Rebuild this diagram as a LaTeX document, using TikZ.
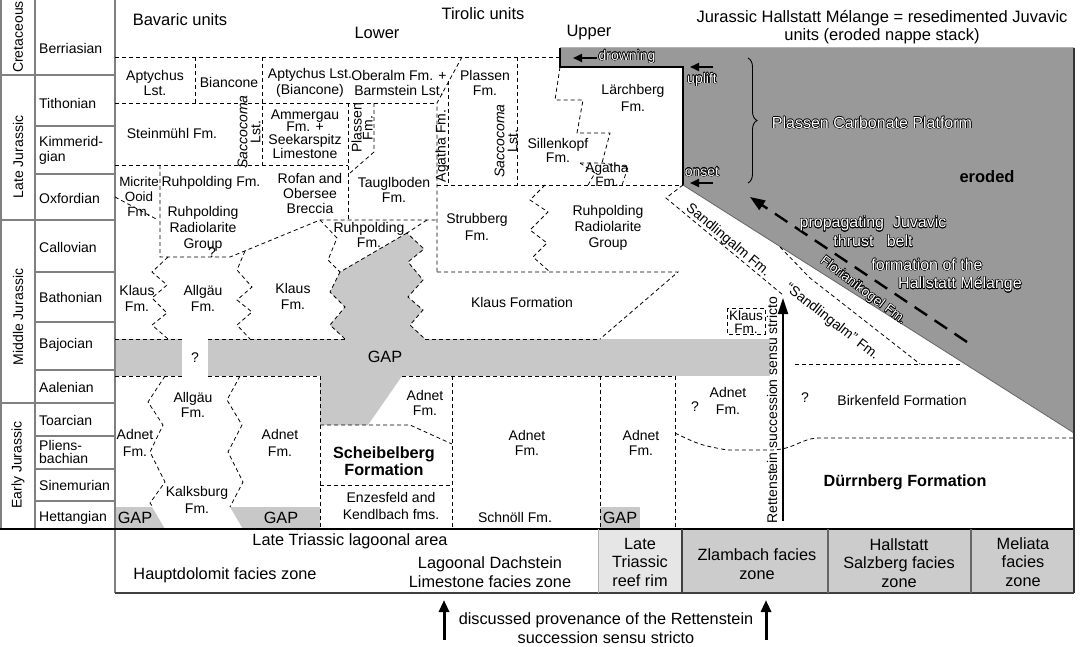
\documentclass[tikz,border=0pt]{standalone}
\usepackage{fontspec}
\setmainfont{Liberation Sans}
\usepackage{contour}
\contourlength{0.5pt}
\usetikzlibrary{arrows.meta,decorations.pathreplacing}
\definecolor{gapg}{RGB}{200,200,200}
\definecolor{darkg}{RGB}{153,153,153}
\definecolor{reefg}{RGB}{230,230,230}
\definecolor{facg}{RGB}{204,204,204}
\begin{document}
\begin{tikzpicture}[x=1pt,y=-1pt,
  lb/.style={font=\fontsize{14}{15.5}\selectfont, align=center, inner sep=0pt},
  hd/.style={font=\fontsize{16.5}{17.5}\selectfont, align=center, inner sep=0pt},
  fc/.style={font=\fontsize{16.3}{18.5}\selectfont, align=center, inner sep=0pt},
  bd/.style={font=\fontsize{16.2}{17.5}\selectfont\bfseries, align=center, inner sep=0pt},
  ol/.style={font=\fontsize{14}{15.5}\selectfont, align=center, inner sep=0pt, text=white},
  olb/.style={font=\fontsize{16}{19}\selectfont, align=center, inner sep=0pt, text=white},
  stg/.style={lb, anchor=west, align=left},
  ds/.style={line width=0.8pt, dash pattern=on 4pt off 3pt},
  gl/.style={draw=black!50, line width=1.3pt}]
\useasboundingbox (0,0) rectangle (1081,647);
\fill[white] (0,0) rectangle (1081,647);

% ---------- fills ----------
\fill[darkg] (560,48) -- (1074,48) -- (1074,433) -- (683,185) -- (683,67) -- (560,67) -- cycle;
\draw[black!30, line width=1pt] (560,48) -- (1074,48);
\draw[black, line width=1.1pt] (560,48) -- (560,67) -- (683,67) -- (683,185);
\draw[black!60, line width=0.8pt] (683,185) -- (1074,433);
\fill[reefg] (598,529) rectangle (682,593);
\fill[facg] (682,529) rectangle (1074,593);
\fill[gapg] (115,339) rectangle (182,376);
\fill[gapg] (208,339) rectangle (770,376);
\fill[gapg] (407,233) -- (424,249) -- (408,262) -- (423,280) -- (408,297) -- (423,310) -- (410,325) -- (425,339) -- (345,339) -- (330,325) -- (345,307) -- (330,292) -- (340,272) -- cycle;
\fill[gapg] (320,376) -- (402,376) -- (368,425) -- (320,425) -- cycle;
\fill[gapg] (115,507) -- (152,507) -- (165,529) -- (115,529) -- cycle;
\fill[gapg] (230,507) -- (320,507) -- (320,529) -- (243,529) -- cycle;
\fill[gapg] (600,507) rectangle (640,529);

% ---------- frame ----------
\draw[gl] (1,0) -- (1,529);
\draw[gl] (35,0) -- (35,529);
\draw[gl] (115,0) -- (115,593);
\foreach \y in {75,220,403} \draw[gl] (1,\y) -- (115,\y);
\foreach \y in {126,174,272,322,370,436,469,501} \draw[gl] (35,\y) -- (115,\y);
\draw[black, line width=1.3pt] (0,529) -- (1074,529);
\draw[black!75, line width=1.2pt] (115,593) -- (1074,593);
\draw[black!80, line width=1.2pt] (1074,48) -- (1074,593);
\draw[black!30, line width=1pt] (598,529) -- (598,593);
\draw[black!75, line width=1.1pt] (682,529) -- (682,593);
\draw[black!60, line width=1.1pt] (828,529) -- (828,593);
\draw[black!60, line width=1.1pt] (971,529) -- (971,593);

% ---------- dashed boundaries ----------
\draw[ds] (115,57) -- (560,57);
\draw[ds] (195,57) -- (195,103);
\draw[ds] (262,57) -- (262,165);
\draw[ds] (115,103) -- (437,103);
\draw[ds] (462,57) -- (437,103) -- (437,272);
\draw[ds] (448,81) -- (448,185);
\draw[ds] (517,57) -- (517,185);
\draw[ds] (437,185) -- (683,185);
\draw[ds] (348,103) -- (348,220);
\draw[ds] (374,103) -- (374,152) -- (350,173);
\draw[ds] (115,165) -- (348,165);
\draw[ds] (160,165) -- (160,257) -- (230,257) -- (320,220) -- (437,220);
\draw[ds] (115,197) -- (158,220);
\draw[ds] (168,257) -- (152,272) -- (167,285) -- (152,298) -- (167,313) -- (152,325) -- (168,339);
\draw[ds] (245,251) -- (237,270) -- (252,287) -- (237,300) -- (252,312) -- (237,325) -- (250,339);
\draw[ds] (320,220) -- (337,238) -- (328,260) -- (340,272);
\draw[ds] (427,220) -- (407,233) -- (424,249) -- (408,262) -- (423,280) -- (408,297) -- (423,310) -- (410,325) -- (425,339);
\draw[ds] (407,233) -- (340,272) -- (330,292) -- (345,307) -- (330,325) -- (345,339);
\draw[ds] (437,272) -- (678,272) -- (600,339);
\draw[ds] (545,185) -- (530,200) -- (548,212) -- (530,230) -- (547,243) -- (533,257) -- (550,272);
\draw[ds] (560,67) -- (555,100) -- (583,100) -- (577,133) -- (610,133) -- (602,163);
\draw[ds] (580,163) -- (602,163) -- (628,167) -- (622,185);
\draw[ds] (580,163) -- (595,173) -- (588,185);
% band edges
\draw[ds] (115,339) -- (182,339) (208,339) -- (345,339) (425,339) -- (600,339);
\draw[ds] (115,376) -- (182,376) (208,376) -- (320,376) (402,376) -- (675,376);
% lower part
\draw[ds] (165,376) -- (148,402) -- (163,425) -- (150,452) -- (165,482) -- (150,503) -- (153,507);
\draw[ds] (240,376) -- (227,400) -- (242,425) -- (228,452) -- (243,482) -- (230,507);
\draw[ds] (320,376) -- (320,529);
\draw[ds] (320,425) -- (410,425) -- (452,444);
\draw[ds] (452,376) -- (452,529);
\draw[ds] (320,485) -- (452,485);
\draw[ds] (600,376) -- (600,529);
\draw[ds] (675,376) -- (675,529);
\draw[ds] (675,433) .. controls (700,445) .. (727,450) -- (770,450) .. controls (795,450) and (800,438) .. (820,438) -- (1074,438);
\draw[ds] (727,308) rectangle (765,334);
\draw[ds] (795,364) -- (963,364);
% Sandlingalm
\draw[ds] (683,185) -- (666,198) -- (783,295);
\draw[ds] (780,247) -- (810,278) -- (920,364);

% ---------- arrows ----------
\draw[line width=2pt, -{Triangle[length=16pt,width=10pt]}] (783,521) -- (783,298);
\draw[line width=3pt, -{Triangle[length=12pt,width=10pt]}] (444,640) -- (444,600);
\draw[line width=3pt, -{Triangle[length=12pt,width=10pt]}] (766,640) -- (766,600);
\draw[line width=2pt, -{Triangle[length=9pt,width=8pt]}] (597,58) -- (573,58);
\draw[line width=2pt, -{Triangle[length=9pt,width=8pt]}] (713,67) -- (690,67);
\draw[line width=2pt, -{Triangle[length=9pt,width=8pt]}] (713,183) -- (690,183);
\draw[line width=0.9pt, decorate, decoration={brace, amplitude=9pt}] (748,58) -- (748,183);
\draw[line width=2.4pt, dash pattern=on 15pt off 9pt, -{Triangle[length=15pt,width=11pt]}] (967,342) -- (750,197);

% ---------- headers ----------
\node[hd] (hbav) at (180,20) {Bavaric units};
\node[hd] (htir) at (483,14) {Tirolic units};
\node[hd] (hlow) at (377,33) {Lower};
\node[hd] (hup) at (589,33) {Upper};
\node[hd] (hhal) at (882,27) {Jurassic Hallstatt Mélange = resedimented Juvavic\\units (eroded nappe stack)};

% ---------- time scale ----------
\node[lb, rotate=90] (pcre) at (18,37) {Cretaceous};
\node[lb, rotate=90] (plj) at (18,157) {Late Jurassic};
\node[lb, rotate=90] (pmj) at (18,317) {Middle Jurassic};
\node[lb, rotate=90] (pej) at (18,465) {Early Jurassic};
\node[stg] (sber) at (39,48) {Berriasian};
\node[stg] (stit) at (39,103) {Tithonian};
\node[stg, font=\fontsize{14}{15}\selectfont] (skim) at (39,150) {Kimmerid-\\gian};
\node[stg] (soxf) at (39,198) {Oxfordian};
\node[stg] (scal) at (39,247) {Callovian};
\node[stg] (sbat) at (39,297) {Bathonian};
\node[stg] (sbaj) at (39,345) {Bajocian};
\node[stg] (saal) at (39,387) {Aalenian};
\node[stg] (stoa) at (39,420) {Toarcian};
\node[stg, font=\fontsize{14}{13.5}\selectfont] (spli) at (39,452) {Pliens-\\bachian};
\node[stg] (ssin) at (39,485) {Sinemurian};
\node[stg] (shet) at (39,518) {Hettangian};

% ---------- formations ----------
\node[lb] (aptl) at (155,83) {Aptychus\\Lst.};
\node[lb] (bianc) at (229,82) {Biancone};
\node[lb] (apt2) at (310,83) {Aptychus Lst.\\(Biancone)};
\node[lb] (ober) at (399,83) {Oberalm Fm. +\\Barmstein Lst.};
\node[lb] (stein) at (172,133) {Steinmühl Fm.};
\node[lb, rotate=90, font=\fontsize{14}{13}\selectfont] (sacc1) at (249,132) {\textit{Saccocoma}\\Lst.};
\node[lb, font=\fontsize{14}{12.7}\selectfont] (amm) at (305,134) {Ammergau\\Fm. +\\Seekarspitz\\Limestone};
\node[lb, rotate=90, font=\fontsize{14}{11}\selectfont] (plas1) at (362,128) {Plassen\\Fm.};
\node[lb, font=\fontsize{13.4}{15}\selectfont] (micr) at (139,197) {Micrite\\Ooid\\Fm.};
\node[lb] (ruhf) at (211,183) {Ruhpolding Fm.};
\node[lb, font=\fontsize{14}{16}\selectfont] (ruhr) at (203,229) {Ruhpolding\\Radiolarite\\Group};
\node[lb, font=\fontsize{14}{15}\selectfont] (rofan) at (310,193) {Rofan and\\Obersee\\Breccia};
\node[lb] (taugl) at (394,190) {Tauglboden\\Fm.};
\node[lb] (plas2) at (485,83) {Plassen\\Fm.};
\node[lb, rotate=90] (agat) at (442,146) {Agatha Fm.};
\node[lb, rotate=90, font=\fontsize{14}{13}\selectfont] (sacc2) at (506,141) {\textit{Saccocoma}\\Lst.};
\node[lb, font=\fontsize{14}{14}\selectfont] (sill) at (558,150) {Sillenkopf\\Fm.};
\node[lb, font=\fontsize{14}{17}\selectfont] (larch) at (633,98) {Lärchberg\\Fm.};
\node[lb, font=\fontsize{13.6}{14}\selectfont] (agat2) at (607,175) {Agatha\\Fm.};
\node[lb] (ruhf2) at (369,235) {Ruhpolding\\Fm.};
\node[lb, font=\fontsize{14}{17}\selectfont] (strub) at (477,227) {Strubberg\\Fm.};
\node[lb, font=\fontsize{14}{16}\selectfont] (ruhr2) at (608,228) {Ruhpolding\\Radiolarite\\Group};
\node[lb] (klausF) at (522,302) {Klaus Formation};
\node[lb, font=\fontsize{14}{16}\selectfont] (klaus1) at (137,298) {Klaus\\Fm.};
\node[lb, font=\fontsize{14}{16}\selectfont] (allg1) at (203,298) {Allgäu\\Fm.};
\node[lb, font=\fontsize{14}{16}\selectfont] (klaus2) at (293,296) {Klaus\\Fm.};
\node[lb, font=\fontsize{13.6}{13.5}\selectfont] (klaus3) at (746,322) {Klaus\\Fm.};
\node[lb] (q0) at (212,253) {?};
\node[lb] (q1) at (195,358) {?};
\node[fc] (gap1) at (385,357) {GAP};
\node[lb, font=\fontsize{14}{15}\selectfont] (allg2) at (193,405) {Allgäu\\Fm.};
\node[lb, font=\fontsize{14}{16.5}\selectfont] (adn1) at (135,443) {Adnet\\Fm.};
\node[lb, font=\fontsize{14}{16.5}\selectfont] (kalks) at (197,500) {Kalksburg\\Fm.};
\node[lb, font=\fontsize{14}{16.5}\selectfont] (adn2) at (280,443) {Adnet\\Fm.};
\node[lb] (adn3) at (425,403) {Adnet\\Fm.};
\node[bd] (scheib) at (384,461) {Scheibelberg\\Formation};
\node[lb, font=\fontsize{14}{17}\selectfont] (enz) at (391,506) {Enzesfeld and\\Kendlbach fms.};
\node[lb] (adn4) at (527,443) {Adnet\\Fm.};
\node[lb] (schn) at (515,517) {Schnöll Fm.};
\node[lb] (adn5) at (641,443) {Adnet\\Fm.};
\node[fc] (gap2) at (135,518) {GAP};
\node[fc] (gap3) at (281,518) {GAP};
\node[fc] (gap4) at (620,518) {GAP};
\node[lb] (q2) at (695,407) {?};
\node[lb, font=\fontsize{14}{17}\selectfont] (adn6) at (728,401) {Adnet\\Fm.};
\node[lb] (q3) at (805,398) {?};
\node[lb] (birk) at (902,400) {Birkenfeld Formation};
\node[bd] (durr) at (905,482) {Dürrnberg Formation};
\node[lb, rotate=90] (rett) at (772,410) {Rettenstein succession sensu stricto};
\node[lb, rotate=-40] (sand1) at (728,240) {Sandlingalm Fm.};
\node[lb, rotate=-38] (sand2) at (832,322) {“Sandlingalm” Fm.};
\node[ol, font=\fontsize{13.5}{15}\selectfont, rotate=-37] (flor) at (863,291) {\contour{black}{Florianikogel Fm.}};

% ---------- eroded region labels ----------
\node[ol] (drown) at (627,57) {\contour{black}{drowning}};
\node[ol] (upl) at (702,80) {\contour{black}{uplift}};
\node[ol] (ons) at (702,172) {\contour{black}{onset}};
\node[olb] (plat) at (872,123) {\contour{black}{Plassen Carbonate Platform}};
\node[bd, font=\fontsize{16.5}{18}\selectfont\bfseries] (ero) at (987,177) {eroded};
\node[olb] (prop) at (873,232) {\contour{black}{propagating\ \ Juvavic}\\\contour{black}{thrust\ \ \ belt}};
\node[olb] (form1) at (927,265) {\contour{black}{formation of the}};
\node[olb] (form2) at (960,285) {\contour{black}{Hallstatt Mélange}};

% ---------- facies row ----------
\node[fc] (lag) at (350,541) {Late Triassic lagoonal area};
\node[fc] (haupt) at (225,575) {Hauptdolomit facies zone};
\node[fc] (lagd) at (490,572) {Lagoonal Dachstein\\Limestone facies zone};
\node[fc] (reef) at (640,562) {Late\\Triassic\\reef rim};
\node[fc] (zlam) at (757,564) {Zlambach facies\\zone};
\node[fc] (hall) at (899,563) {Hallstatt\\Salzberg facies\\zone};
\node[fc] (meli) at (1023,562) {Meliata\\facies\\zone};
\node[fc] (prov) at (606,628) {discussed provenance of the Rettenstein\\succession sensu stricto};
\end{tikzpicture}
\end{document}
